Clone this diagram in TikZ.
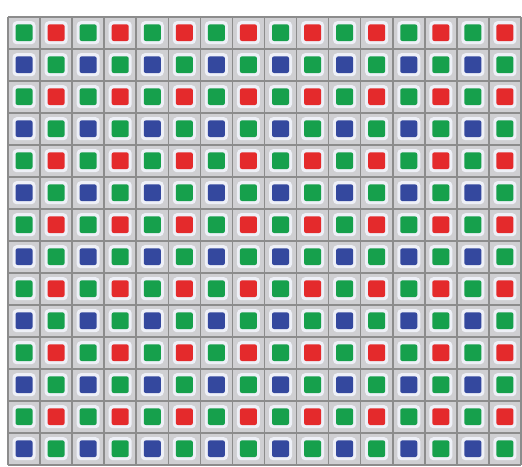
\documentclass[tikz,border=0pt]{standalone}
\definecolor{cellgray}{HTML}{CFCFD2}
\definecolor{linegray}{HTML}{8C8C8C}
\definecolor{halo}{HTML}{EEF0F7}
\definecolor{pg}{HTML}{16A04C}
\definecolor{pr}{HTML}{E42A2C}
\definecolor{pb}{HTML}{34489E}
\tikzset{
  pix/.style={rounded corners=2pt, draw=none},
  halobox/.style={fill=halo, rounded corners=4pt, draw=none},
}
\begin{document}
\begin{tikzpicture}[x=1pt,y=-1pt]
\useasboundingbox (0,0) rectangle (522,466);
\fill[white] (0,0) rectangle (522,466);
\def\cw{32.06}
\def\ch{32.0}
\fill[cellgray] (8,16.7) rectangle (521,464.7);
\foreach \r in {0,...,13}{
  \foreach \c in {0,...,15}{
    \pgfmathsetmacro{\cx}{8+\cw*(\c+0.5)}
    \pgfmathsetmacro{\cy}{16.7+\ch*(\r+0.5)}
    \pgfmathtruncatemacro{\rr}{mod(\r,2)}
    \pgfmathtruncatemacro{\cc}{mod(\c,2)}
    \ifnum\rr=0
      \ifnum\cc=0 \def\col{pg}\else \def\col{pr}\fi
    \else
      \ifnum\cc=0 \def\col{pb}\else \def\col{pg}\fi
    \fi
    \fill[halobox] (\cx-11.5,\cy-11.5) rectangle (\cx+11.5,\cy+11.5);
    \fill[pix,fill=\col] (\cx-8.5,\cy-8.3) rectangle (\cx+8.5,\cy+8.3);
  }
}
\foreach \c in {0,...,16}{
  \draw[linegray, line width=1.6pt] (8+\cw*\c,16.7) -- (8+\cw*\c,464.7);
}
\foreach \r in {0,...,14}{
  \draw[linegray, line width=1.6pt] (8,16.7+\ch*\r) -- (521,16.7+\ch*\r);
}
\end{tikzpicture}
\end{document}
